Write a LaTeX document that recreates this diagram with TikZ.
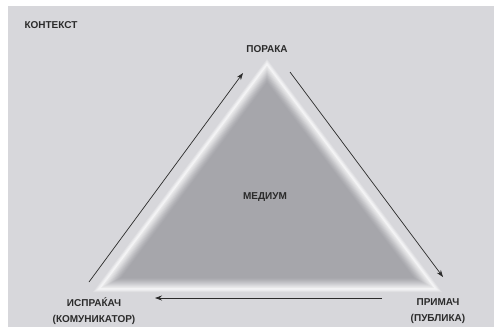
\documentclass[tikz,border=0pt]{standalone}
\usepackage{fontspec}
\setmainfont{Liberation Sans}
\usetikzlibrary{calc,arrows.meta}
\definecolor{bg}{HTML}{D7D7DB}
\definecolor{inner}{HTML}{A6A6AB}
\definecolor{ink}{HTML}{2B2B2B}
\begin{document}
\begin{tikzpicture}[x=1pt,y=-1pt,
  lbl/.style={font=\bfseries\fontsize{10}{16}\selectfont, text=ink, align=center, inner sep=0pt},
  flow/.style={draw=ink, line width=0.7pt, -{Stealth[length=7pt,width=5pt]}}]
\useasboundingbox (0,0) rectangle (494,327);
\fill[white] (0,0) rectangle (494,327);
\fill[bg] (8,6) rectangle (494,327);
\coordinate (A) at (267,59);
\coordinate (B) at (93,292);
\coordinate (C) at (442,292);
\coordinate (I) at (267.2,204.7);
\foreach \d/\c in {0/{white!20!bg},1/{white!45!bg},2/{white!65!bg},3/{white!75!bg},
  4/{white!75!inner},5/{white!68!inner},6/{white!60!inner},7/{white!51!inner},
  8/{white!42!inner},9/{white!33!inner},10/{white!25!inner},11/{white!17!inner},
  12/{white!10!inner},13/{white!5!inner},14/{inner}}{
  \pgfmathsetmacro\f{(87.3-\d)/87.3}
  \fill[\c] ($(I)!\f!(A)$) -- ($(I)!\f!(B)$) -- ($(I)!\f!(C)$) -- cycle;
}
\node[lbl] (kontekst) at (51,25) {КОНТЕКСТ};
\node[lbl] (poraka) at (267,49) {ПОРАКА};
\node[lbl] (medium) at (265,197) {МЕДИУМ};
\node[lbl] (ispr) at (94,311) {ИСПРАЌАЧ\\(КОМУНИКАТОР)};
\node[lbl] (prim) at (438,311) {ПРИМАЧ\\(ПУБЛИКА)};
\coordinate (l1) at (89,282);
\coordinate (l2) at (243,73);
\coordinate (r1) at (290,72);
\coordinate (r2) at (443,277);
\coordinate (b1) at (382,298);
\coordinate (b2) at (155,298);
\draw[flow] (l1) -- (l2);
\draw[flow] (r1) -- (r2);
\draw[flow] (b1) -- (b2);
\end{tikzpicture}
\end{document}
